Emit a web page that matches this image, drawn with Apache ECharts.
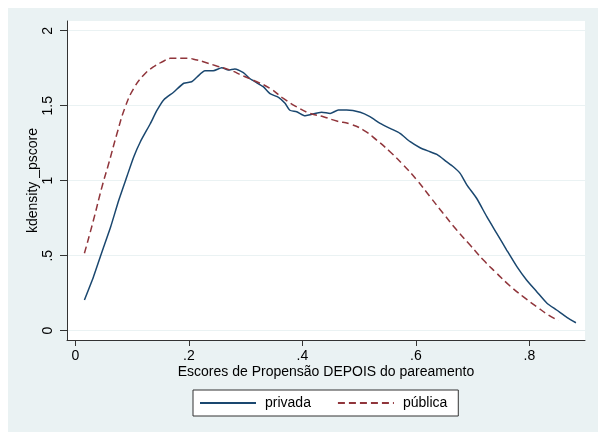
<!DOCTYPE html>
<html>
<head>
<meta charset="utf-8">
<script src="https://cdn.jsdelivr.net/npm/echarts@6/dist/echarts.min.js"></script>
<style>
html,body{margin:0;padding:0;background:#ffffff;}
#c{position:absolute;left:8px;top:8px;width:590px;height:424px;background:#EAF2F3;}
</style>
</head>
<body>
<div id="c"></div>
<script>
const privadaX = [0.016,0.032,0.050,0.062,0.0765,0.091,0.103,0.1146,0.132,0.144,0.156,0.173,0.191,0.205,0.214,0.2285,0.243,0.258,0.2696,0.281,0.296,0.308,0.3196,0.331,0.343,0.358,0.3695,0.378,0.390,0.405,0.4136,0.434,0.449,0.4634,0.478,0.502,0.519,0.537,0.5545,0.572,0.590,0.6074,0.625,0.637,0.654,0.666,0.678,0.690,0.707,0.725,0.7425,0.760,0.778,0.795,0.813,0.831,0.848,0.866,0.882];
const privadaY = [0.205,0.36,0.56,0.69,0.87,1.03,1.16,1.26,1.38,1.47,1.54,1.59,1.65,1.66,1.69,1.733,1.733,1.753,1.738,1.745,1.72,1.68,1.653,1.627,1.58,1.556,1.516,1.47,1.46,1.433,1.44,1.456,1.449,1.471,1.471,1.456,1.427,1.383,1.349,1.316,1.26,1.22,1.193,1.175,1.127,1.093,1.049,0.971,0.883,0.76,0.649,0.538,0.427,0.338,0.26,0.183,0.138,0.089,0.053];
const publicaX = [0.016,0.032,0.047,0.0589,0.0735,0.088,0.103,0.1205,0.138,0.156,0.1674,0.197,0.2145,0.2256,0.249,0.2726,0.296,0.3196,0.343,0.3665,0.390,0.4136,0.437,0.4606,0.484,0.5075,0.531,0.5545,0.578,0.6016,0.625,0.648,0.672,0.6955,0.719,0.7425,0.766,0.789,0.813,0.8335,0.851];
const publicaY = [0.516,0.738,0.96,1.116,1.316,1.493,1.616,1.705,1.76,1.798,1.816,1.816,1.805,1.793,1.765,1.738,1.698,1.66,1.616,1.549,1.493,1.449,1.427,1.398,1.378,1.338,1.271,1.193,1.105,1.005,0.893,0.783,0.671,0.571,0.471,0.383,0.298,0.227,0.16,0.105,0.067];
const xTicks = [0, 0.2, 0.4, 0.6, 0.8];
const yTicks = [0, 0.5, 1, 1.5, 2];
const seriesNames = ['privada', 'pública'];
const xTitle = 'Escores de Propensão DEPOIS do pareamento';
const yTitle = 'kdensity _pscore';

const fmt = v => { const s = String(+v.toFixed(2)); return s.startsWith('0.') ? s.slice(1) : s; };
const zip = (a, b) => a.map((x, i) => [x, b[i]]);
const FONT = '"Liberation Sans", Arial, Helvetica, sans-serif';

const chart = echarts.init(document.getElementById('c'), null, {renderer: 'canvas'});
chart.setOption({
  animation: false,
  textStyle: {fontFamily: FONT},
  grid: {left: 59, top: 13, right: 13, bottom: 92, show: true, backgroundColor: '#ffffff', borderWidth: 0},
  xAxis: {
    type: 'value', min: -0.0147, max: 0.898,
    name: xTitle, nameLocation: 'middle', nameGap: 25, nameMoveOverlap: false,
    nameTextStyle: {fontSize: 14, color: '#000', fontFamily: FONT},
    axisLine: {show: true, onZero: false, lineStyle: {color: '#333', width: 1}},
    axisTick: {show: true, length: 6, customValues: xTicks, lineStyle: {color: '#333'}},
    axisLabel: {customValues: xTicks, formatter: fmt, fontSize: 14, color: '#000', margin: 9, fontFamily: FONT},
    splitLine: {show: false}
  },
  yAxis: {
    type: 'value', min: -0.062, max: 2.065,
    name: yTitle, nameLocation: 'middle', nameGap: 27, nameRotate: 90, nameMoveOverlap: false,
    nameTextStyle: {fontSize: 14, color: '#000', fontFamily: FONT},
    axisLine: {show: true, onZero: false, lineStyle: {color: '#333', width: 1}},
    axisTick: {show: true, length: 7, customValues: yTicks, lineStyle: {color: '#333'}},
    axisLabel: {customValues: yTicks, formatter: fmt, fontSize: 14, color: '#000', margin: 12, rotate: 90, fontFamily: FONT},
    splitLine: {show: true, lineStyle: {color: '#EAF2F3', width: 1}}
  },
  legend: {
    left: 185, top: 382, orient: 'horizontal',
    backgroundColor: '#ffffff', borderColor: '#333', borderWidth: 1,
    padding: [6, 11, 6, 6], itemGap: 26, itemWidth: 56, itemHeight: 14,
    itemStyle: {opacity: 0},
    textStyle: {fontSize: 14, color: '#000', fontFamily: FONT, padding: [0, 0, 0, 4]},
    data: seriesNames
  },
  series: [
    {name: seriesNames[0], type: 'line', data: zip(privadaX, privadaY), symbol: 'none', smooth: 0.2,
     lineStyle: {color: '#1A476F', width: 1.5}, itemStyle: {color: '#1A476F'}},
    {name: seriesNames[1], type: 'line', data: zip(publicaX, publicaY), symbol: 'none', smooth: true,
     lineStyle: {color: '#90353B', width: 1.5, type: [7, 4]}, itemStyle: {color: '#90353B'}}
  ]
});
</script>
</body>
</html>
